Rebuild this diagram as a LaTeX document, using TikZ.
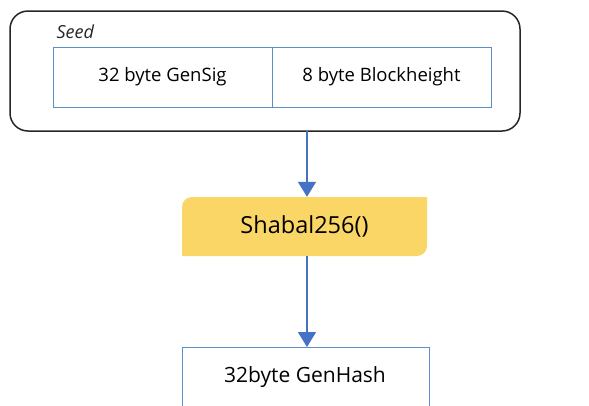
\documentclass[tikz,border=0pt]{standalone}
\usepackage{fontspec}
\setmainfont{Open Sans}
\usetikzlibrary{arrows.meta}
\definecolor{cellblue}{HTML}{5B8FC9}
\definecolor{arrblue}{HTML}{4472C4}
\definecolor{fnyellow}{HTML}{FAD666}
\begin{document}
\begin{tikzpicture}[x=1pt,y=-1pt,
  cell/.style={draw=cellblue,line width=1pt,inner sep=0pt,font=\fontsize{18.5}{22}\selectfont},
  conn/.style={draw=arrblue,line width=1.5pt,-{Triangle[length=15pt,width=18pt]}},
]
\useasboundingbox (0,0) rectangle (589,405);
% outer seed frame
\node[draw=black!85,line width=1.5pt,rounded corners=18pt,minimum width=510pt,minimum height=120pt,inner sep=0pt] (seed) at (265,71) {};
\node[anchor=west,font=\itshape\fontsize{18}{20}\selectfont,text=black!85] (seedlbl) at (53,32) {Seed};
\node[cell,minimum width=219pt,minimum height=60pt] (gensig) at (162.5,77) {32 byte GenSig};
\node[cell,minimum width=219pt,minimum height=60pt] (bh) at (381.5,77) {8 byte Blockheight};
% shabal
\path[fill=fnyellow] (182,207) arc[start angle=180,end angle=270,radius=10] -- (427,197) -- (427,246) arc[start angle=0,end angle=90,radius=10] -- (182,256) -- cycle;
\node[minimum width=245pt,minimum height=59pt,inner sep=0pt,font=\fontsize{23.5}{26}\selectfont] (shabal) at (304.5,226.5) {Shabal256()};
% output
\node[cell,anchor=north,minimum width=247pt,minimum height=70pt] (hash) at (305.5,347) {};
\node[font=\fontsize{21}{24}\selectfont] (hashlbl) at (305,377) {32byte GenHash};
\coordinate (s1) at (307,131);
\draw[conn] (s1) -- (shabal.north -| s1);
\draw[conn] (shabal.south -| s1) -- (hash.north -| s1);
\end{tikzpicture}
\end{document}
